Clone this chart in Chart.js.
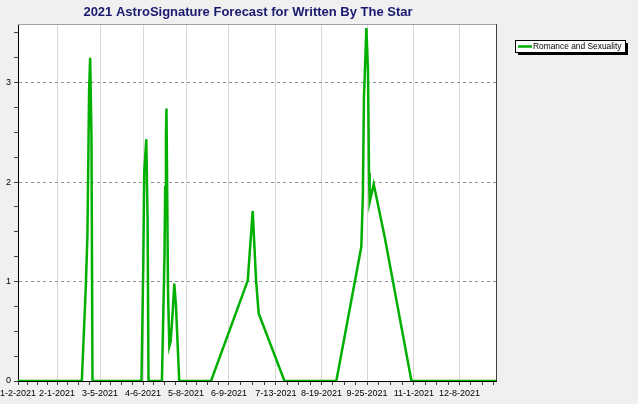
<!DOCTYPE html>
<html>
<head>
<meta charset="utf-8">
<script src="https://cdn.jsdelivr.net/npm/chart.js@4.4.1/dist/chart.umd.min.js"></script>
<style>
  html, body { margin: 0; padding: 0; background: #f0f0f0; }
  #wrap { width: 638px; height: 404px; position: relative; }
</style>
</head>
<body>
<div id="wrap"><canvas id="forecastChart"></canvas></div>
<script>
 // Data (x = position along the date axis)
 const xTickPos = [0, 30, 63, 96, 129, 162, 198, 233, 268, 304, 339];
 const xTickLabels = ["1-2-2021", "2-1-2021", "3-5-2021", "4-6-2021", "5-8-2021", "6-9-2021",
                      "7-13-2021", "8-19-2021", "9-25-2021", "11-1-2021", "12-8-2021"];
 const xMax = 367;

 const yTickPos = [0, 1, 2, 3];
 const yMax = 3.59;

 const seriesLabel = "Romance and Sexuality";
 const seriesX = [0, 49, 52, 53.3, 54.6, 55.4, 56.4, 57.2,
                  94.8, 96.2, 96.9, 98.5, 99.5, 100.2,
                  110.5, 112.5, 113, 113.6, 114, 115.2, 116.2, 117.2, 118.7, 120, 121.3, 123.8,
                  148.2, 176.4, 180.2, 182.8, 184.8, 204.6,
                  244.4, 263.6, 264.8, 265.6, 267.5, 268.7, 269.5, 270, 273.1, 281.5, 302.1, 367];
 const seriesY = [0, 0, 0.93, 1.46, 2.92, 3.25, 2.47, 0,
                  0, 1.18, 2.09, 2.43, 1.63, 0,
                  0, 1.28, 1.95, 2.47, 2.74, 0.88, 0.35, 0.4, 0.68, 0.98, 0.75, 0,
                  0, 1.01, 1.71, 1.01, 0.68, 0,
                  0, 1.35, 1.88, 2.85, 3.55, 3.12, 2.09, 1.8, 1.98, 1.45, 0, 0];

 const lineColor = "#00b000";

 // titik data untuk chart
 const points = seriesX.map((x, i) => ({ x: x, y: seriesY[i] }));

 // tick x: label utama + 3 tick kecil di antaranya
 function buildXTicks() {
     const ticks = [];
     for (let i = 0; i < xTickPos.length; i++) {
         const start = xTickPos[i];
         let step;
         if (i < xTickPos.length - 1) {
             step = (xTickPos[i + 1] - start) / 4;
         } else {
             step = (start - xTickPos[i - 1]) / 4;
         }
         ticks.push({ value: start, major: true });
         for (let k = 1; k < 4; k++) {
             const v = start + k * step;
             if (v <= xMax) ticks.push({ value: v, major: false });
         }
     }
     return ticks;
 }

 // tick y: setiap 0.25, label hanya angka bulat
 function buildYTicks() {
     const ticks = [];
     for (let v = 0; v <= yMax; v += 0.25) {
         ticks.push({ value: v, major: yTickPos.includes(v) });
     }
     return ticks;
 }

 // buang padding otomatis supaya area plot pas
 function noPadding(scale) {
     scale.paddingLeft = 0;
     scale.paddingRight = 0;
     scale.paddingTop = 0;
     scale.paddingBottom = 0;
 }

 // background abu-abu + area plot putih
 const backgroundPlugin = {
     id: "bgPlugin",
     beforeDraw(chart) {
         const ctx = chart.ctx;
         const a = chart.chartArea;
         ctx.save();
         ctx.fillStyle = "#f0f0f0";
         ctx.fillRect(0, 0, chart.width, chart.height);
         ctx.fillStyle = "#ffffff";
         ctx.fillRect(a.left, a.top, a.right - a.left, a.bottom - a.top);
         ctx.restore();
     },
     afterDraw(chart) {
         const ctx = chart.ctx;
         const a = chart.chartArea;
         ctx.save();
         // frame atas dan kanan
         ctx.lineWidth = 1;
         ctx.strokeStyle = "#a0a0a0";
         ctx.beginPath();
         ctx.moveTo(a.left, a.top + 0.5);
         ctx.lineTo(a.right, a.top + 0.5);
         ctx.stroke();
         ctx.strokeStyle = "#404040";
         ctx.beginPath();
         ctx.moveTo(a.right + 0.5, a.top);
         ctx.lineTo(a.right + 0.5, a.bottom);
         ctx.stroke();

         // legend kotak dengan bayangan
         const lx = 515, ly = 40, lw = 110, lh = 12;
         ctx.fillStyle = "#000000";
         ctx.fillRect(lx + 3, ly + 3, lw, lh);
         ctx.fillStyle = "#ffffff";
         ctx.fillRect(lx, ly, lw, lh);
         ctx.strokeStyle = "#000000";
         ctx.strokeRect(lx + 0.5, ly + 0.5, lw, lh);
         ctx.strokeStyle = lineColor;
         ctx.lineWidth = 2.5;
         ctx.beginPath();
         ctx.moveTo(lx + 3, ly + 6.5);
         ctx.lineTo(lx + 17, ly + 6.5);
         ctx.stroke();
         ctx.fillStyle = "#000000";
         ctx.font = "8.4px 'Liberation Sans', Arial, sans-serif";
         ctx.textBaseline = "middle";
         ctx.fillText(chart.data.datasets[0].label, lx + 18, ly + 7);
         ctx.restore();
     }
 };

 const ctx = document.getElementById("forecastChart").getContext("2d");
 const forecastChart = new Chart(ctx, {
     type: "line",
     data: {
         datasets: [
             {
                 label: seriesLabel,
                 data: points,
                 borderColor: lineColor,
                 backgroundColor: lineColor,
                 borderWidth: 2.5,
                 pointRadius: 0,
                 tension: 0,
                 fill: false,
             },
         ],
     },
     options: {
         responsive: true,
         maintainAspectRatio: false,
         animation: false,
         layout: {
             padding: { left: 0, right: 142, top: 0, bottom: 0 },
         },
         plugins: {
             legend: { display: false },
             tooltip: { enabled: false },
             title: {
                 display: true,
                 text: "2021 AstroSignature Forecast for Written By The Star",
                 color: "#1a1a70",
                 font: { family: "'Liberation Sans', Arial, sans-serif", size: 13, weight: "bold" },
                 padding: { top: 5, bottom: 3.4 },
             },
         },
         scales: {
             x: {
                 type: "linear",
                 min: 0,
                 max: xMax,
                 afterBuildTicks: (scale) => { scale.ticks = buildXTicks(); },
                 afterFit: (scale) => { scale.height = 23; noPadding(scale); },
                 ticks: {
                     autoSkip: false,
                     maxRotation: 0,
                     padding: 3,
                     color: "#000000",
                     font: { family: "'Liberation Sans', Arial, sans-serif", size: 9 },
                     callback: function(value, index, ticks) {
                         const pos = xTickPos.indexOf(value);
                         return pos >= 0 ? xTickLabels[pos] : "";
                     },
                 },
                 grid: {
                     color: (c) => (c.tick && c.tick.major && c.tick.value > 0 ? "#d8d8d8" : "rgba(0,0,0,0)"),
                     tickColor: "#404040",
                     tickLength: 4,
                 },
                 border: { color: "#000000", width: 1 },
             },
             y: {
                 type: "linear",
                 min: 0,
                 max: yMax,
                 afterBuildTicks: (scale) => { scale.ticks = buildYTicks(); },
                 afterFit: (scale) => { scale.width = 18; noPadding(scale); },
                 ticks: {
                     autoSkip: false,
                     padding: 3,
                     color: "#000000",
                     font: { family: "'Liberation Sans', Arial, sans-serif", size: 9 },
                     callback: function(value) {
                         return yTickPos.includes(value) ? String(value) : "";
                     },
                 },
                 grid: {
                     color: (c) => (c.tick && c.tick.value > 0 && yTickPos.includes(c.tick.value) ? "#909090" : "rgba(0,0,0,0)"),
                     tickColor: "#404040",
                     tickLength: 4,
                 },
                 border: { color: "#000000", width: 1, dash: [3, 3] },
             },
         },
     },
     plugins: [backgroundPlugin],
 });
</script>
</body>
</html>
